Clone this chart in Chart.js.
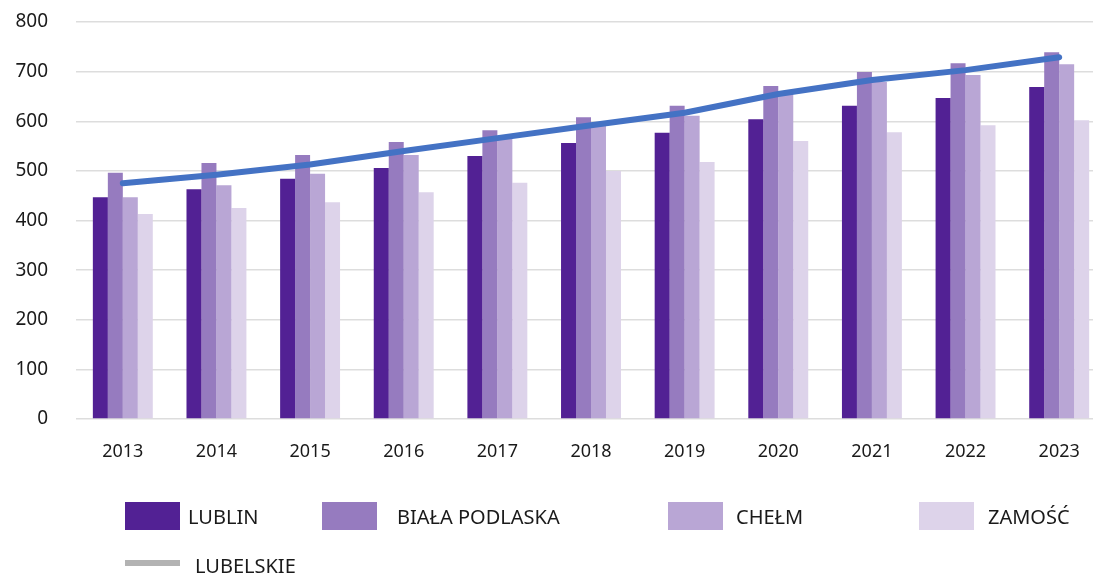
<!DOCTYPE html>
<html>
<head>
<meta charset="utf-8">
<script src="https://cdn.jsdelivr.net/npm/chart.js@4"></script>
<style>
  html, body { margin: 0; padding: 0; background: #fff; overflow: hidden; }
  #wrap { position: relative; width: 1106px; height: 480px; }
  #legend { position: absolute; left: 0; top: 0; width: 1093px; height: 574px; pointer-events: none;
    font-family: "Noto Sans", sans-serif; font-size: 20px; color: #1a1a1a; }
  .item { position: absolute; display: flex; align-items: center; }
</style>
</head>
<body>
<div id="wrap"><canvas id="chart" width="1106" height="480"></canvas></div>
<div id="legend"></div>
<script>
const years = ['2013', '2014', '2015', '2016', '2017', '2018', '2019', '2020', '2021', '2022', '2023'];
const lublin = [447, 463, 484, 506, 530, 556, 577, 604, 631, 647, 669];
const bialaPodlaska = [496, 516, 532, 558, 582, 608, 631, 671, 699, 717, 739];
const chelm = [447, 471, 494, 532, 566, 598, 611, 657, 679, 693, 715];
const zamosc = [413, 425, 437, 457, 476, 500, 518, 560, 578, 592, 602];
const lubelskie = [475, 492, 513, 540, 566, 592, 617, 655, 683, 703, 729];

const fontFamily = '"Noto Sans", sans-serif';
const ctx = document.getElementById('chart');

const myChart = new Chart(ctx, {
  data: {
    labels: years,
    datasets: [
      { type: 'line', label: 'LUBELSKIE', data: lubelskie, borderColor: '#4472C4', borderWidth: 6,
        pointRadius: 0, borderCapStyle: 'round', borderJoinStyle: 'round', order: 0,
        legendColor: '#b3b3b3', legendLine: true },
      { type: 'bar', label: 'LUBLIN', data: lublin, backgroundColor: '#522194', order: 1 },
      { type: 'bar', label: 'BIAŁA PODLASKA', data: bialaPodlaska, backgroundColor: '#967BBF', order: 1 },
      { type: 'bar', label: 'CHEŁM', data: chelm, backgroundColor: '#B9A6D5', order: 1 },
      { type: 'bar', label: 'ZAMOŚĆ', data: zamosc, backgroundColor: '#DDD3EA', order: 1 }
    ]
  },
  options: {
    responsive: false,
    maintainAspectRatio: false,
    animation: false,
    devicePixelRatio: 1,
    layout: { padding: 0 },
    datasets: { bar: { categoryPercentage: 0.64, barPercentage: 1.0 } },
    scales: {
      x: {
        grid: { display: false },
        border: { display: false },
        ticks: { color: '#1a1a1a', font: { family: fontFamily, size: 18 }, padding: 14 },
        afterFit: (s) => { s.height = 61; }
      },
      y: {
        min: 0, max: 800,
        ticks: { stepSize: 100, color: '#1a1a1a', font: { family: fontFamily, size: 19 }, padding: 28 },
        grid: { color: '#dddddd', lineWidth: 1.5, drawTicks: false },
        border: { display: false },
        afterFit: (s) => { s.width = 76; s.paddingTop = 22; s.paddingBottom = 0; }
      }
    },
    plugins: { legend: { display: false }, tooltip: { enabled: false } }
  }
});

// legend built from the chart's datasets
const legendPos = {
  'LUBLIN': [125, 502, 188],
  'BIAŁA PODLASKA': [322, 502, 397],
  'CHEŁM': [668, 502, 736],
  'ZAMOŚĆ': [919, 502, 988],
  'LUBELSKIE': [125, 548, 195]
};
const leg = document.getElementById('legend');
myChart.data.datasets.forEach(ds => {
  const p = legendPos[ds.label];
  const sw = document.createElement('div');
  sw.style.position = 'absolute';
  sw.style.left = p[0] + 'px';
  if (ds.legendLine) {
    sw.style.top = (p[1] + 12) + 'px';
    sw.style.width = '55px'; sw.style.height = '6px';
    sw.style.background = ds.legendColor;
  } else {
    sw.style.top = p[1] + 'px';
    sw.style.width = '55px'; sw.style.height = '28px';
    sw.style.background = ds.backgroundColor;
  }
  leg.appendChild(sw);
  const t = document.createElement('div');
  t.className = 'item';
  t.style.left = p[2] + 'px';
  t.style.top = p[1] + 'px';
  t.style.height = ds.legendLine ? '34px' : '28px';
  t.textContent = ds.label;
  leg.appendChild(t);
});
</script>
</body>
</html>
